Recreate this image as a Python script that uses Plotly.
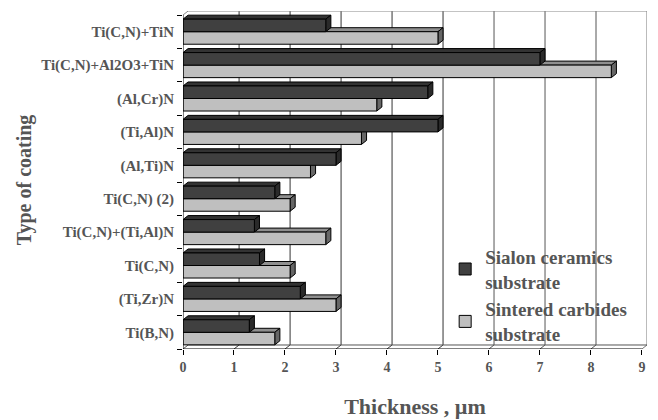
import plotly.graph_objects as go

# ---- data (top to bottom as in the chart) ----
coatings = ["Ti(C,N)+TiN", "Ti(C,N)+Al2O3+TiN", "(Al,Cr)N", "(Ti,Al)N", "(Al,Ti)N",
            "Ti(C,N) (2)", "Ti(C,N)+(Ti,Al)N", "Ti(C,N)", "(Ti,Zr)N", "Ti(B,N)"]
sialon = [2.8, 7.0, 4.8, 5.0, 3.0, 1.8, 1.4, 1.5, 2.3, 1.3]
sintered = [5.0, 8.4, 3.8, 3.5, 2.5, 2.1, 2.8, 2.1, 3.0, 1.8]
x_ticks = [0, 1, 2, 3, 4, 5, 6, 7, 8, 9]

series_names = ["Sialon ceramics<br>substrate", "Sintered carbides<br>substrate"]

# bottom-to-top order for numeric positions
cats = coatings[::-1]
v_dark = sialon[::-1]
v_light = sintered[::-1]
n = len(cats)
pos = list(range(n))

TXT = "#555555"
FONT = "Liberation Serif"
DX, DY = 0.1, 0.12          # 3-D depth offsets (axis units)
BARGAP = 0.25
W = (1 - BARGAP) / 2        # each bar thickness in category units

fig = go.Figure()
# light bar first -> lower in group; dark bar on top
fig.add_trace(go.Bar(y=pos, x=v_light, orientation="h", name=series_names[1],
                     marker=dict(color="#bfbfbf", line=dict(color="#000000", width=1)),
                     legendrank=2))
fig.add_trace(go.Bar(y=pos, x=v_dark, orientation="h", name=series_names[0],
                     marker=dict(color="#404040", line=dict(color="#000000", width=1)),
                     legendrank=1))

shapes = []
ymin, ymax = -0.5, n - 0.5
xmax = x_ticks[-1]
# back wall gridlines + floor tick slants
for k in x_ticks[1:]:
    col = "#777777" if k == xmax else ("#333333" if k <= 5 else "#555555")
    shapes.append(dict(type="path", layer="between",
                       path=f"M {k+DX},{ymax+DY} L {k+DX},{ymin+DY} L {k},{ymin}",
                       line=dict(color=col, width=1)))
# white backdrop behind the legend (covers back-wall gridlines, not the floor)
shapes.append(dict(type="rect", layer="between", xref="paper", yref="paper",
                   x0=0.586, x1=0.985, y0=0.02, y1=0.314,
                   fillcolor="white", line=dict(width=0)))
# back wall top edge and left slant
shapes.append(dict(type="path", layer="between",
                   path=f"M {0},{ymax} L {DX},{ymax+DY} L {xmax+DX},{ymax+DY}",
                   line=dict(color="#888888", width=1)))
# floor back edge
shapes.append(dict(type="path", layer="between",
                   path=f"M {0},{ymin} L {DX},{ymin+DY} L {xmax+DX},{ymin+DY}",
                   line=dict(color="#555555", width=1)))


def faces(v, ybot, ytop, top_col, side_col):
    out = []
    out.append(dict(type="path", layer="between",
                    path=f"M 0,{ytop} L {v},{ytop} L {v+DX},{ytop+DY} L {DX},{ytop+DY} Z",
                    fillcolor=top_col, line=dict(color="#000000", width=1)))
    out.append(dict(type="path", layer="between",
                    path=f"M {v},{ybot} L {v},{ytop} L {v+DX},{ytop+DY} L {v+DX},{ybot+DY} Z",
                    fillcolor=side_col, line=dict(color="#000000", width=1)))
    return out

for i in pos:
    shapes += faces(v_light[i], i - W, i, "#8f8f8f", "#666666")
for i in pos:
    shapes += faces(v_dark[i], i, i + W, "#333333", "#2a2a2a")

# front axis lines
shapes.append(dict(type="line", layer="above", x0=0, x1=0, y0=ymin, y1=ymax,
                   line=dict(color="#000000", width=1)))
shapes.append(dict(type="line", layer="above", x0=0, x1=xmax, y0=ymin, y1=ymin,
                   line=dict(color="#000000", width=1)))

# the page body has an 8px margin, so the figure is 8px smaller and margins shifted
fig.update_layout(
    width=650, height=412,
    margin=dict(l=175, r=11, t=3, b=71, autoexpand=False),
    paper_bgcolor="white", plot_bgcolor="white",
    barmode="group", bargap=BARGAP, bargroupgap=0,
    shapes=shapes,
    font=dict(family=FONT, color=TXT, size=14, weight="bold"),
    showlegend=True,
    legend=dict(x=0.565, y=0.329, xanchor="left", yanchor="top",
                bgcolor="rgba(0,0,0,0)", borderwidth=0,
                font=dict(family=FONT, size=19, color=TXT, weight="bold"),
                tracegroupgap=0),
    xaxis=dict(range=[0, xmax + DX], tickvals=x_ticks, ticks="outside", ticklen=5,
               tickcolor="#000000", showgrid=False, zeroline=False, showline=False,
               automargin=False,
               tickfont=dict(family=FONT, size=14, color=TXT, weight="bold"),
               title=dict(text="Thickness , µm", standoff=24,
                          font=dict(family=FONT, size=22, color=TXT, weight="bold"))),
    yaxis=dict(range=[ymin, ymax + DY], tickvals=pos, ticktext=cats,
               ticks="outside", ticklen=5, tickcolor="rgba(0,0,0,0)",
               minor=dict(tickvals=[p - 0.5 for p in pos] + [ymax], ticks="outside",
                          ticklen=5, tickcolor="#000000", showgrid=False),
               showgrid=False, zeroline=False, showline=False,
               automargin=False,
               tickfont=dict(family=FONT, size=15, color=TXT, weight="bold"),
               title=dict(text="Type of coating", standoff=4,
                          font=dict(family=FONT, size=20, color=TXT, weight="bold"))),
)

fig.write_html("out.html")
